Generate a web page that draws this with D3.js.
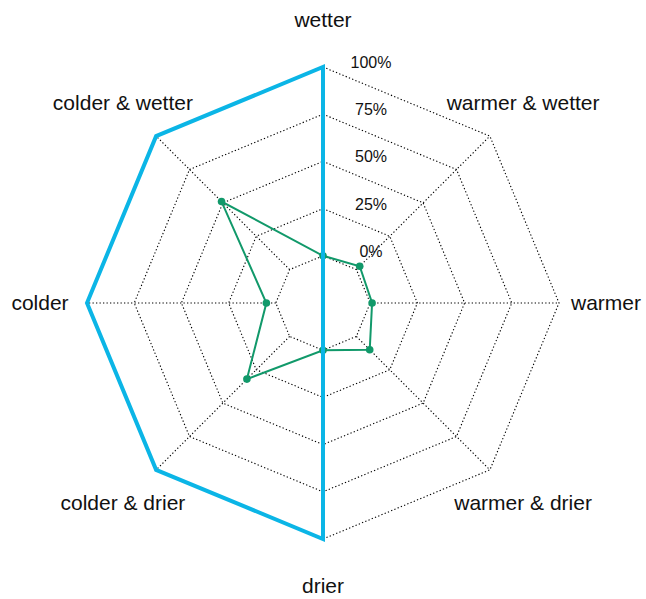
<!DOCTYPE html>
<html>
<head>
<meta charset="utf-8">
<script src="https://cdn.jsdelivr.net/npm/d3@7"></script>
<style>
  html, body { margin: 0; padding: 0; background: #fff; }
  svg { display: block; font-family: "Liberation Sans", Arial, sans-serif; }
</style>
</head>
<body>
<svg id="chart" width="646" height="599"></svg>
<script>
const categories = ["wetter", "warmer & wetter", "warmer", "warmer & drier", "drier", "colder & drier", "colder", "colder & wetter"];
const seriesBlue = [1, -0.25, -0.25, -0.25, 1, 1, 1, 1];
const seriesGreen = [0, 0.025, 0.01, 0.10, 0, 0.32, 0.05, 0.51];
const gridLevels = [0, 0.25, 0.5, 0.75, 1];
const tickLabels = ["0%", "25%", "50%", "75%", "100%"];

const svg = d3.select("#chart");
const cx = 323, cy = 303, R = 236;
const r = d3.scaleLinear().domain([-0.25, 1]).range([0, R]);
const ang = d3.scalePoint().domain(d3.range(categories.length)).range([0, 2 * Math.PI * (categories.length - 1) / categories.length]);

const g = svg.append("g").attr("transform", `translate(${cx},${cy})`);

// grid rings
const ringLine = d3.lineRadial().angle((d, i) => ang(i)).radius(d => r(d)).curve(d3.curveLinearClosed);
gridLevels.forEach(lv => {
  g.append("path")
    .attr("d", ringLine(categories.map(() => lv)))
    .attr("fill", "none")
    .attr("stroke", "#000")
    .attr("stroke-width", 1.1)
    .attr("stroke-dasharray", "1.3,2.2");
});
// spokes
categories.forEach((c, i) => {
  const a = ang(i);
  const r0 = r(gridLevels[0]), r1 = r(gridLevels[gridLevels.length - 1]);
  g.append("line")
    .attr("x1", r0 * Math.sin(a)).attr("y1", -r0 * Math.cos(a))
    .attr("x2", r1 * Math.sin(a)).attr("y2", -r1 * Math.cos(a))
    .attr("stroke", "#000").attr("stroke-width", 1.1).attr("stroke-dasharray", "1.3,2.2");
});

// tick labels
gridLevels.forEach((lv, i) => {
  g.append("text")
    .attr("x", 48)
    .attr("y", -r(lv) + 1)
    .attr("text-anchor", "middle")
    .attr("font-size", 16)
    .attr("fill", "#111")
    .text(tickLabels[i]);
});

// axis labels
const LR = 283;
categories.forEach((c, i) => {
  const a = ang(i);
  g.append("text")
    .attr("x", LR * Math.sin(a))
    .attr("y", -LR * Math.cos(a))
    .attr("dy", "0.35em")
    .attr("text-anchor", "middle")
    .attr("font-size", 21)
    .attr("fill", "#111")
    .text(c);
});

// green series
const seriesLine = d3.lineRadial().angle((d, i) => ang(i)).radius(d => r(d)).curve(d3.curveLinearClosed);
g.append("path")
  .attr("d", seriesLine(seriesGreen))
  .attr("fill", "none")
  .attr("stroke", "#11996a")
  .attr("stroke-width", 2);
g.selectAll("circle.green")
  .data(seriesGreen)
  .join("circle")
  .attr("class", "green")
  .attr("cx", (d, i) => r(d) * Math.sin(ang(i)))
  .attr("cy", (d, i) => -r(d) * Math.cos(ang(i)))
  .attr("r", 3.8)
  .attr("fill", "#11996a");

// blue series
g.append("path")
  .attr("d", seriesLine(seriesBlue))
  .attr("fill", "none")
  .attr("stroke", "#0bb5e6")
  .attr("stroke-width", 4)
  .attr("stroke-linejoin", "miter");
</script>
</body>
</html>
